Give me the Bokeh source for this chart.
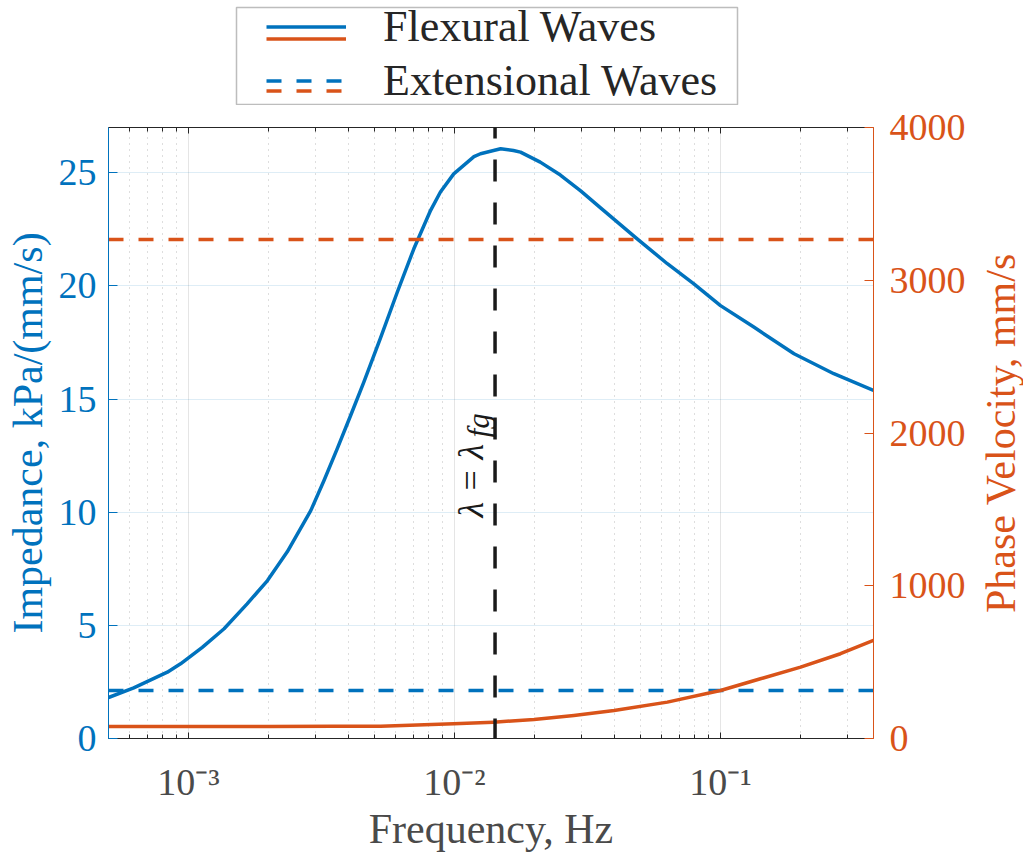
import math
from bokeh.plotting import figure
from bokeh.layouts import column, row
from bokeh.models import (Range1d, LinearAxis, LogAxis, FixedTicker, CustomJSTickFormatter,
                          Span, Label, Legend, LegendItem, BoxAnnotation)
from bokeh.embed import file_html
from bokeh.resources import INLINE

# ---------------- data ----------------
flex_freq = [5.0e-4, 6.22e-4, 8.32e-4, 9.33e-4, 1.126e-3, 1.36e-3, 1.66e-3, 1.98e-3, 2.35e-3,
             2.88e-3, 3.23e-3, 3.62e-3, 4.06e-3, 4.56e-3, 5.27e-3, 6.09e-3, 7.03e-3, 8.13e-3,
             8.85e-3, 9.93e-3, 1.183e-2, 1.252e-2, 1.49e-2, 1.665e-2, 1.77e-2, 2.10e-2,
             2.50e-2, 2.98e-2, 3.54e-2, 4.86e-2, 6.31e-2, 7.94e-2, 0.100, 0.1334, 0.189,
             0.2667, 0.376]
flex_imp = [1.81, 2.24, 2.93, 3.30, 4.03, 4.85, 5.95, 6.98, 8.25,
            10.07, 11.40, 12.80, 14.25, 15.75, 17.70, 19.72, 21.64, 23.34,
            24.15, 24.95, 25.71, 25.84, 26.06, 25.98, 25.91, 25.47,
            24.90, 24.20, 23.45, 22.08, 20.98, 20.09, 19.13, 18.18, 17.00,
            16.12, 15.38]

vel_freq = [5.0e-4, 1.0e-3, 2.0e-3, 3.5e-3, 5.27e-3, 9.93e-3, 1.40e-2, 1.99e-2, 2.81e-2,
            3.98e-2, 6.31e-2, 0.100, 0.1413, 0.200, 0.2825, 0.376]
flex_vel = [78, 78, 79, 80, 81, 96, 107, 124, 151,
            183, 238, 314, 391, 467, 555, 642]

ext_freq = [5.0e-4, 0.376]
ext_imp = [2.12, 2.12]
ext_vel = [3267, 3267]

lambda_fg_freq = 0.0142
lambda_label_y = 9.77

x_ticks = [1e-3, 1e-2, 1e-1]
x_tick_labels = ["10⁻³", "10⁻²", "10⁻¹"]
x_minor_ticks = [5e-4, 6e-4, 7e-4, 8e-4, 9e-4,
                 2e-3, 3e-3, 4e-3, 5e-3, 6e-3, 7e-3, 8e-3, 9e-3,
                 2e-2, 3e-2, 4e-2, 5e-2, 6e-2, 7e-2, 8e-2, 9e-2,
                 2e-1, 3e-1]
imp_ticks = [0, 5, 10, 15, 20, 25]
vel_ticks = [0, 1000, 2000, 3000, 4000]

series_labels = ["Flexural Waves", "Extensional Waves"]
x_label = "Frequency, Hz"
y_left_label = "Impedance, kPa/(mm/s)"
y_right_label = "Phase Velocity, mm/s"

# ---------------- style ----------------
BLUE = "#0072BD"
ORANGE = "#D95319"
DARK = "#262626"
GRAYTXT = "#4a4a4a"
FONT = "Liberation Serif"
TICK_FS = "38px"
LABEL_FS = "42px"
LW = 3.5

# ================= main plot =================
p = figure(width=970, height=753, x_axis_type="log",
           x_range=Range1d(5e-4, 0.376), y_range=Range1d(0, 27),
           output_backend="svg", toolbar_location=None,
           min_border_left=108, min_border_right=97, min_border_top=22, min_border_bottom=120)
p.extra_y_ranges = {"vel": Range1d(0, 4000)}
p.outline_line_color = None

r_flex_imp = p.line(flex_freq, flex_imp, line_color=BLUE, line_width=LW, line_join="round")
r_ext_imp = p.line(ext_freq, ext_imp, line_color=BLUE, line_width=LW, line_dash="15 15")
r_ext_vel = p.line(ext_freq, ext_vel, line_color=ORANGE, line_width=LW, line_dash="15 15",
                   y_range_name="vel")
r_flex_vel = p.line(vel_freq, flex_vel, line_color=ORANGE, line_width=LW, line_join="round",
                    y_range_name="vel")

# ---- x axis (bottom) ----
xt = FixedTicker(ticks=x_ticks, minor_ticks=x_minor_ticks)
xfmt = CustomJSTickFormatter(args=dict(tvals=x_ticks, tlabels=x_tick_labels), code="""
let best = 0, bd = Infinity;
for (let i = 0; i < tvals.length; i++) {
  const d = Math.abs(Math.log10(tick) - Math.log10(tvals[i]));
  if (d < bd) { bd = d; best = i; }
}
return tlabels[best];
""")
xa = p.xaxis[0]
xa.ticker = xt
xa.formatter = xfmt
xa.axis_label = x_label
xa.axis_label_text_font = FONT
xa.axis_label_text_font_size = LABEL_FS
xa.axis_label_text_font_style = "normal"
xa.axis_label_text_color = GRAYTXT
xa.axis_label_standoff = 0
xa.major_label_text_font = FONT
xa.major_label_text_font_size = TICK_FS
xa.major_label_text_color = GRAYTXT
xa.major_label_standoff = 22
xa.axis_line_color = DARK
xa.major_tick_line_color = DARK
xa.minor_tick_line_color = DARK
xa.major_tick_in = 6
xa.major_tick_out = 0
xa.minor_tick_in = 4
xa.minor_tick_out = 0

# ---- top axis (box ticks only) ----
ta = LogAxis(ticker=xt, formatter=CustomJSTickFormatter(code="return '';"),
             axis_line_color=DARK, major_tick_line_color=DARK, minor_tick_line_color=DARK,
             major_tick_in=6, major_tick_out=0, minor_tick_in=4, minor_tick_out=0,
             major_label_standoff=0, major_label_text_font_size="1px")
p.add_layout(ta, "above")

# ---- left axis ----
ya = p.yaxis[0]
ya.ticker = FixedTicker(ticks=imp_ticks)
ya.axis_label = y_left_label
ya.axis_label_text_font = FONT
ya.axis_label_text_font_size = LABEL_FS
ya.axis_label_text_font_style = "normal"
ya.axis_label_text_color = BLUE
ya.axis_label_standoff = 5
ya.major_label_text_font = FONT
ya.major_label_text_font_size = TICK_FS
ya.major_label_text_color = BLUE
ya.major_label_standoff = 12
ya.axis_line_color = BLUE
ya.major_tick_line_color = BLUE
ya.minor_tick_line_color = None
ya.major_tick_in = 9
ya.major_tick_out = 0

# ---- right axis ----
ra = LinearAxis(y_range_name="vel", ticker=FixedTicker(ticks=vel_ticks),
                major_label_text_font=FONT, major_label_text_font_size=TICK_FS,
                major_label_text_color=ORANGE, major_label_standoff=16,
                axis_line_color=ORANGE, major_tick_line_color=ORANGE, minor_tick_line_color=None,
                major_tick_in=9, major_tick_out=0)
p.add_layout(ra, "right")

# ---- grids ----
p.ygrid.grid_line_color = BLUE
p.ygrid.grid_line_alpha = 0.13
p.xgrid.grid_line_color = DARK
p.xgrid.grid_line_alpha = 0.12
p.xgrid.minor_grid_line_color = DARK
p.xgrid.minor_grid_line_alpha = 0.3
p.xgrid.minor_grid_line_dash = "1 5"

# ---- vertical marker ----
span = Span(location=lambda_fg_freq, dimension="height", line_color="#1a1a1a",
            line_width=3.5, line_dash="22 21", line_dash_offset=11)
p.add_layout(span)
p.add_layout(Label(x=lambda_fg_freq, y=lambda_label_y, x_offset=-24, angle=math.pi / 2,
                   text="λ = λ", text_font=FONT, text_font_style="italic",
                   text_font_size="36px", text_color="#1a1a1a",
                   text_align="left", text_baseline="alphabetic"))
p.add_layout(Label(x=lambda_fg_freq, y=lambda_label_y, x_offset=-17, y_offset=80,
                   angle=math.pi / 2, text="fg", text_font=FONT, text_font_style="italic",
                   text_font_size="31px", text_color="#1a1a1a",
                   text_align="left", text_baseline="alphabetic"))

# ================= right axis title strip =================
side = figure(width=53, height=753, x_range=Range1d(0, 53), y_range=p.y_range,
              output_backend="svg", toolbar_location=None, min_border=0,
              x_axis_location=None, y_axis_location=None)
side.outline_line_color = None
side.grid.visible = False
side.add_layout(Label(x=30, y=13.5, x_units="screen", angle=math.pi / 2,
                      text=y_right_label, text_font=FONT, text_font_size=LABEL_FS,
                      text_color=ORANGE, text_align="center", text_baseline="middle"))

# ================= legend strip =================
LF_H = 105
lf = figure(width=1023, height=LF_H, x_range=Range1d(0, 1023), y_range=Range1d(0, LF_H),
            output_backend="svg", toolbar_location=None, min_border=0,
            x_axis_location=None, y_axis_location=None)
lf.outline_line_color = None
lf.grid.visible = False
lf.add_layout(BoxAnnotation(left=236, right=737, bottom=1, top=LF_H - 7,
                            fill_color="white", fill_alpha=1.0,
                            line_color=DARK, line_width=1.5))
# hidden proxies carrying the series styles for the legend swatches
k_flex_imp = lf.line(flex_freq, flex_imp, line_color=BLUE, line_width=LW, visible=False)
k_ext_imp = lf.line(ext_freq, ext_imp, line_color=BLUE, line_width=LW, line_dash="15 15",
                    visible=False)
k_flex_vel = lf.line(vel_freq, flex_vel, line_color=ORANGE, line_width=LW, visible=False)
k_ext_vel = lf.line(ext_freq, ext_vel, line_color=ORANGE, line_width=LW, line_dash="15 15",
                    visible=False)

leg_common = dict(label_text_font=FONT, label_text_font_size="44px", label_text_color=DARK,
                  glyph_width=80, glyph_height=49, label_height=49, label_standoff=37,
                  spacing=3, padding=0, margin=0, border_line_color=None,
                  background_fill_alpha=0, inactive_fill_alpha=0)
leg1 = Legend(items=[LegendItem(label=series_labels[0], renderers=[k_flex_imp]),
                     LegendItem(label=series_labels[1], renderers=[k_ext_imp])],
              location=(266, LF_H - 106), **leg_common)
leg2 = Legend(items=[LegendItem(label=" ", renderers=[k_flex_vel]),
                     LegendItem(label=" ", renderers=[k_ext_vel])],
              location=(266, LF_H - 114.5), **leg_common)
lf.add_layout(leg1)
lf.add_layout(leg2)

layout = column(lf, row(p, side))
open("out.html", "w").write(file_html(layout, INLINE))
